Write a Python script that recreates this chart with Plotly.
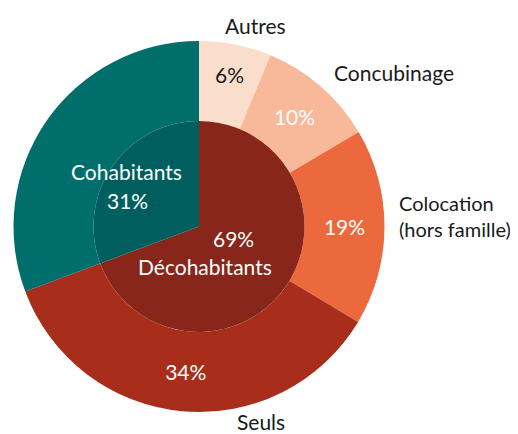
import math
import plotly.graph_objects as go

# outer ring: detailed living situations
outer_labels = ["Autres", "Concubinage", "Colocation<br>(hors famille)", "Seuls", "Cohabitants"]
outer_values = [6.3, 10.2, 17.1, 35.7, 30.7]   # slice sizes as drawn
outer_pct = [6, 10, 19, 34, 31]                # printed percentages
outer_colors = ["#FADDCB", "#F7B99A", "#EB693D", "#A82E1B", "#006E6A"]
outer_text_colors = ["#1a1a1a", "white", "white", "white", "white"]

# inner pie: décohabitants vs cohabitants
inner_labels = ["Décohabitants", "Cohabitants"]
inner_values = [69.3, 30.7]
inner_pct = [69, 31]
inner_colors = ["#88261A", "#005F5E"]

W, H = 518, 434
OFF = 8  # page body margin shifts the plot
cx, cy = 199 - OFF, 226.5 - OFF
r_out, r_in = 185.5, 105.5
FS = 21


def dom(r):
    return dict(x=[(cx - r) / W, (cx + r) / W], y=[(H - cy - r) / H, (H - cy + r) / H])


def px(x, y):
    return (x - OFF) / W, (H - (y - OFF)) / H


outer_text = [f"{v}%" for v in outer_pct]
outer_text[-1] = ""

fig = go.Figure()
fig.add_trace(go.Pie(
    labels=outer_labels, values=outer_values, text=outer_text,
    textinfo="text", textposition="inside", insidetextorientation="horizontal",
    marker=dict(colors=outer_colors, line=dict(width=0)),
    textfont=dict(size=FS, color=outer_text_colors, family="Lato"),
    hole=r_in / r_out, sort=False, direction="clockwise", rotation=0,
    domain=dom(r_out), showlegend=False,
))
fig.add_trace(go.Pie(
    labels=inner_labels, values=inner_values,
    textinfo="none",
    marker=dict(colors=inner_colors, line=dict(width=0)),
    sort=False, direction="clockwise", rotation=0,
    domain=dom(r_in), showlegend=False,
))

# inner labels, placed along each slice's mid angle
tot = sum(inner_values)
start = 0
inner_items = []
for lab, v, p in zip(inner_labels, inner_values, inner_pct):
    mid = math.radians((start + v / 2) / tot * 360)
    start += v
    inner_items.append((lab, p, math.sin(mid), -math.cos(mid)))


def note(t, x, y):
    ax, ay = px(x, y)
    fig.add_annotation(x=ax, y=ay, xref="paper", yref="paper",
                       text=t, showarrow=False, xanchor="center", yanchor="middle",
                       font=dict(size=FS, color="white", family="Lato"))


lab, p, sx, sy = inner_items[0]
x0, y0 = 199 + 42 * sx, 226.5 + 42 * sy
note(f"{p}%", x0, y0 - 12)
note(lab, x0 - 29, y0 + 16)

lab, p, sx, sy = inner_items[1]
x1, y1 = 199 + 85 * sx, 226.5 + 85 * sy
note(lab, x1 - 3, y1 - 7)
note(f"{p}%", x1 - 2, y1 + 22)

# outside category labels
label_pos = [
    (255.5, 25, "center", "middle", FS),
    (393.5, 73, "center", "middle", FS),
    (397, 216, "left", "middle", 20),
    (261, 407, "center", "top", FS),
]
for lab, (x, y, xa, ya, fs) in zip(outer_labels[:4], label_pos):
    ax, ay = px(x, y)
    fig.add_annotation(
        x=ax, y=ay, xref="paper", yref="paper",
        text=lab, showarrow=False, xanchor=xa, yanchor=ya, align="left",
        font=dict(size=fs, color="#1a1a1a", family="Lato"),
    )

fig.update_layout(
    width=W, height=H,
    margin=dict(l=0, r=0, t=0, b=0),
    paper_bgcolor="white", plot_bgcolor="white",
    font=dict(family="Lato"),
)

fig.write_html("out.html")
